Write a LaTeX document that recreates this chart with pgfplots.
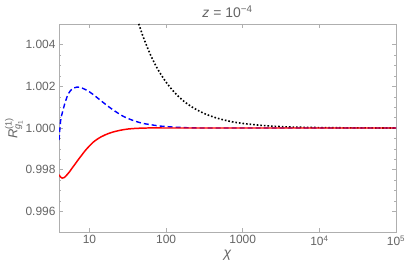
\documentclass[border=0pt]{standalone}
\usepackage{amsmath}
\usepackage{fontspec}
\setmainfont{Liberation Sans}
\usepackage{pgfplots}
\pgfplotsset{compat=1.18}
\definecolor{labgray}{RGB}{100,100,100}
\definecolor{framegray}{RGB}{175,175,175}
\begin{document}
\begin{tikzpicture}
\begin{axis}[name=ax,
  scale only axis, width=337bp, height=208bp,
  xmode=log, log basis x=10,
  xmin=4, xmax=100000, ymin=0.995, ymax=1.005,
  xtick={10,100,1000,10000,100000},
  xticklabels={10,100,1000,10\textsuperscript{4},10\textsuperscript{5}},
  ytick={0.996,0.998,1.000,1.002,1.004},
  yticklabels={0.996,0.998,1.000,1.002,1.004},
  minor y tick num=3,
  tick align=inside,
  major tick length=4bp, minor tick length=2.2bp,
  axis line style={framegray, line width=0.8pt},
  every tick/.style={framegray, line width=0.6pt},
  tick label style={font=\fontsize{12}{14}\selectfont, text=labgray},
  /pgf/number format/assume math mode=true,
  title={\fontsize{14}{16}\selectfont\textit{z} = 10$^{\text{\textminus 4}}$},
  title style={text=labgray, yshift=-3bp},
  xlabel={\fontsize{14}{16}\selectfont\textit{χ}},
  ylabel={\fontsize{13}{15}\selectfont$\textit{R}^{\text{(1)}}_{\textit{g}_{\text{1}}}$},
  label style={text=labgray},
  xlabel style={yshift=2bp},
  ylabel style={yshift=-4bp},
  clip=true,
]
\addplot[black, line width=1.6pt, dotted, smooth] coordinates {
(40,1.0055) (44,1.0050) (50,1.0044) (60,1.00367) (70,1.00314) (80,1.00275)
(100,1.0022) (130,1.00169) (170,1.00129) (220,1.0010) (300,1.00073)
(400,1.00055) (500,1.00044) (700,1.00031) (1000,1.00022) (1500,1.00015)
(2000,1.00011) (3000,1.00007) (5000,1.00004) (10000,1.00002) (30000,1.000005) (100000,1.0)
};
\addplot[blue, line width=1.4pt, dash pattern=on 5bp off 3bp, smooth] coordinates {
(4.0,0.99942) (4.2,1.00035) (4.4,1.00071) (4.7,1.0011) (5.12,1.00152)
(5.6,1.00178) (6.2,1.00192) (6.9,1.00197) (8,1.00192) (9.8,1.00176)
(12,1.00152) (14.6,1.00127) (18,1.00101) (21.9,1.00079) (28,1.00055)
(37.9,1.00035) (50,1.00022) (63,1.00016) (80,1.0001) (100,1.00007)
(130,1.00004) (200,1.00001) (300,1.0) (1000,1.0) (100000,1.0)
};
\addplot[red, line width=1.5pt, smooth] coordinates {
(4.0,0.99775) (4.2,0.99764) (4.4,0.99759) (4.7,0.99762) (5.0,0.99772)
(5.5,0.99790) (6.0,0.99810) (6.56,0.99829) (7.08,0.99846) (7.94,0.99870)
(8.87,0.99893) (10,0.99914) (11.2,0.99932) (12.6,0.99946) (14.1,0.99957)
(15.8,0.99966) (17.8,0.99974) (20,0.99980) (25.1,0.99989) (31.6,0.99995)
(39.8,0.99998) (56,1.0) (100,1.0) (1000,1.0) (100000,1.0)
};
\end{axis}
\pgfresetboundingbox
\path ([shift={(-59bp,-38bp)}]ax.south west) rectangle ([shift={(11bp,24bp)}]ax.north east);
\end{tikzpicture}
\end{document}
